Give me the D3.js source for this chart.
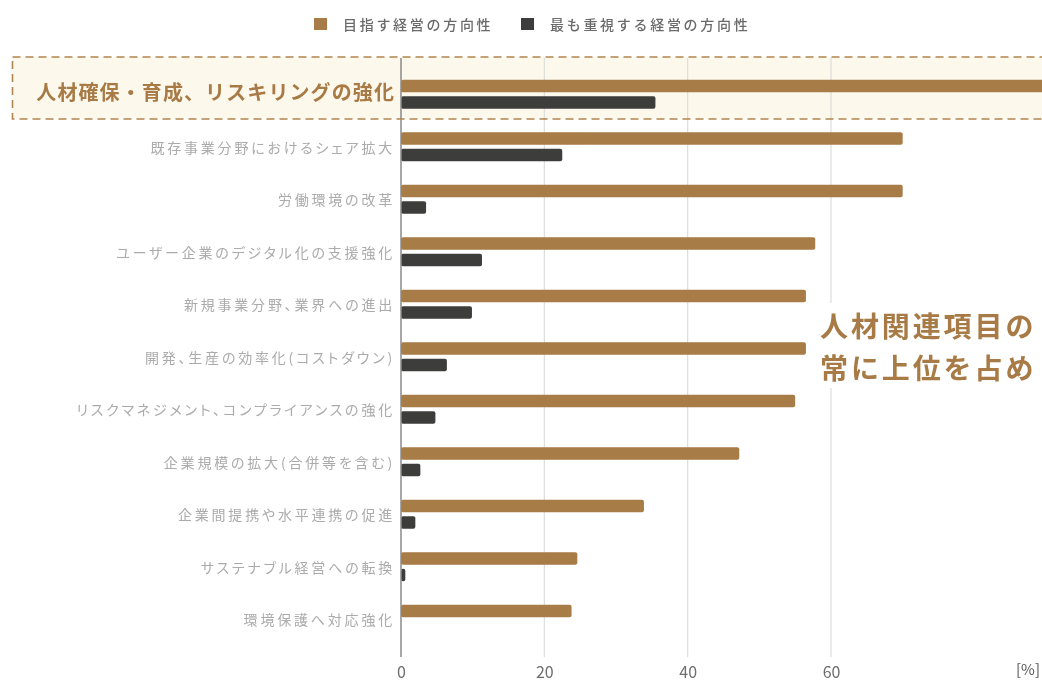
<!DOCTYPE html>
<html lang="ja">
<head>
<meta charset="utf-8">
<script src="https://cdn.jsdelivr.net/npm/d3@7/dist/d3.min.js"></script>
<style>
  html, body { margin: 0; padding: 0; background: #ffffff; }
  svg { display: block; }
  text { font-family: "Noto Sans CJK JP", "Noto Sans", sans-serif; }
  .cat { font-feature-settings: "palt" 1; }
</style>
</head>
<body>
<svg id="chart" width="1042" height="682"></svg>
<script>
// 経営の方向性（複数回答）と最も重視するもの
const categories = [
  "人材確保・育成、リスキリングの強化",
  "既存事業分野におけるシェア拡大",
  "労働環境の改革",
  "ユーザー企業のデジタル化の支援強化",
  "新規事業分野、業界への進出",
  "開発、生産の効率化(コストダウン)",
  "リスクマネジメント、コンプライアンスの強化",
  "企業規模の拡大(合併等を含む)",
  "企業間提携や水平連携の促進",
  "サステナブル経営への転換",
  "環境保護へ対応強化"
];
const seriesNames = ["目指す経営の方向性", "最も重視する経営の方向性"];
const aimValues = [91.0, 70.0, 70.0, 57.8, 56.5, 56.5, 55.0, 47.2, 33.9, 24.6, 23.8];
const topValues = [35.5, 22.5, 3.5, 11.3, 9.9, 6.4, 4.8, 2.7, 2.0, 0.6, 0.0];
const xTicks = [0, 20, 40, 60];
const unitLabel = "[%]";
const highlightIndex = 0;
const noteLines = ["人材関連項目の", "常に上位を占め"];

const colors = { aim: "#a87b46", top: "#3e3d3a", accent: "#a87a45" };

const svg = d3.select("#chart");
const W = 1042, H = 682;

const defs = svg.append("defs");
defs.append("filter").attr("id", "soft")
  .append("feGaussianBlur").attr("stdDeviation", 0.55);

const x = d3.scaleLinear().domain([0, 60]).range([401, 831]);
const y = d3.scaleBand().domain(categories).range([68, 645.5]).paddingInner(0).paddingOuter(0);
const sub = d3.scaleBand().domain(seriesNames).range([11.75, 40.75]).paddingInner(0.24);

const plotTop = 58, plotBottom = 657;

// highlighted row panel
const hy = y(categories[highlightIndex]);
svg.append("rect")
  .attr("x", 12.5).attr("y", 57).attr("width", W + 20).attr("height", 62)
  .attr("fill", "#fdf8ec");

const base = svg.append("g").attr("filter", "url(#soft)");

// vertical grid
base.append("g").selectAll("line")
  .data(xTicks.filter(d => d !== 0))
  .join("line")
  .attr("x1", d => x(d)).attr("x2", d => x(d))
  .attr("y1", plotTop).attr("y2", plotBottom)
  .attr("stroke", "#dcdcdc").attr("stroke-width", 1.2);

// bars
const seriesData = [
  { name: seriesNames[0], values: aimValues, color: colors.aim },
  { name: seriesNames[1], values: topValues, color: colors.top }
];
seriesData.forEach(s => {
  base.append("g").selectAll("rect")
    .data(categories.map((c, i) => ({ c, v: s.values[i] })).filter(d => d.v > 0))
    .join("rect")
    .attr("x", x(0))
    .attr("y", d => y(d.c) + sub(s.name))
    .attr("width", d => x(d.v) - x(0))
    .attr("height", sub.bandwidth())
    .attr("rx", 2)
    .attr("fill", s.color);
});

// zero axis line
base.append("line")
  .attr("x1", x(0)).attr("x2", x(0))
  .attr("y1", plotTop).attr("y2", plotBottom)
  .attr("stroke", "#8a8a8a").attr("stroke-width", 1.5);

// category labels
base.append("g").selectAll("text")
  .data(categories.filter((c, i) => i !== highlightIndex))
  .join("text")
  .attr("class", "cat")
  .attr("x", 395)
  .attr("y", d => y(d) + y.bandwidth() / 2)
  .attr("text-anchor", "end")
  .attr("dominant-baseline", "central")
  .attr("font-size", 14)
  .attr("letter-spacing", 2.8)
  .attr("fill", "#ababab")
  .text(d => d);

// x axis tick labels
const xAxis = d3.axisBottom(x).tickValues(xTicks).tickSize(0).tickPadding(0);
const axisG = base.append("g").attr("transform", `translate(0, ${plotBottom + 10})`).call(xAxis);
axisG.select(".domain").remove();
axisG.selectAll("text")
  .attr("font-family", "'Liberation Sans', Arial, sans-serif")
  .attr("font-size", 16)
  .attr("fill", "#6e6e6e")
  .attr("dy", "0.71em");

base.append("text")
  .attr("x", 1040).attr("y", 675)
  .attr("text-anchor", "end")
  .attr("font-family", "'Liberation Sans', Arial, sans-serif")
  .attr("font-size", 15)
  .attr("fill", "#555")
  .text(unitLabel);

// legend
const legend = base.append("g");
const legendItems = [
  { name: seriesNames[0], color: colors.aim, x: 314 },
  { name: seriesNames[1], color: colors.top, x: 521 }
];
legendItems.forEach(it => {
  legend.append("rect")
    .attr("x", it.x).attr("y", 18).attr("width", 13).attr("height", 12)
    .attr("fill", it.color);
  legend.append("text")
    .attr("x", it.x + 29).attr("y", 24)
    .attr("dominant-baseline", "central")
    .attr("font-size", 14)
    .attr("font-weight", 500)
    .attr("letter-spacing", 2.7)
    .attr("fill", "#6a6a6a")
    .text(it.name);
});

// dashed frame around the highlighted row
svg.append("rect")
  .attr("x", 12.5).attr("y", 57).attr("width", W + 20).attr("height", 62)
  .attr("fill", "none")
  .attr("stroke", "#b0854f").attr("stroke-width", 1.6)
  .attr("stroke-dasharray", "8,5");

svg.append("text")
  .attr("x", 395)
  .attr("y", hy + y.bandwidth() / 2 - 3)
  .attr("text-anchor", "end")
  .attr("dominant-baseline", "central")
  .attr("font-size", 20)
  .attr("font-weight", 700)
  .attr("letter-spacing", 1.1)
  .attr("fill", colors.accent)
  .text(categories[highlightIndex]);

// side note
svg.append("rect")
  .attr("x", 815).attr("y", 303).attr("width", 240).attr("height", 85)
  .attr("fill", "#ffffff");
svg.append("g").selectAll("text")
  .data(noteLines)
  .join("text")
  .attr("x", 820)
  .attr("y", (d, i) => 325 + i * 42)
  .attr("dominant-baseline", "central")
  .attr("font-size", 28)
  .attr("font-weight", 700)
  .attr("letter-spacing", 2.9)
  .attr("fill", colors.accent)
  .text(d => d);
</script>
</body>
</html>
